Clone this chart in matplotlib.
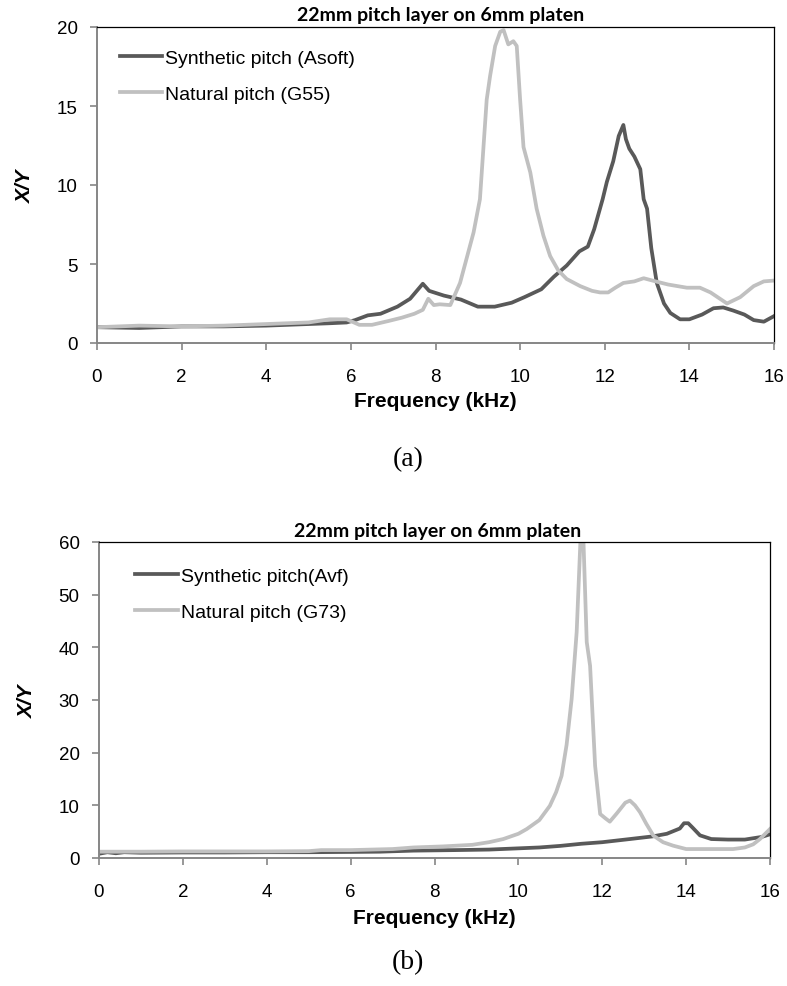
import matplotlib
matplotlib.use('Agg')
import matplotlib.pyplot as plt

# (a) 22mm pitch layer, Asoft vs G55
freq_a_syn = [0, 1, 2, 3, 4, 4.5, 5, 5.5, 5.9, 6.1, 6.4, 6.7, 7.1, 7.4, 7.7, 7.85, 8.2, 8.6,
              9.0, 9.4, 9.8, 10.1, 10.5, 10.8, 11.1, 11.4, 11.6, 11.75, 11.95, 12.05, 12.2,
              12.33, 12.44, 12.5, 12.58, 12.7, 12.84, 12.92, 13.0, 13.1, 13.23, 13.4, 13.55,
              13.78, 14.0, 14.3, 14.57, 14.8, 15.04, 15.3, 15.52, 15.76, 16.0]
xy_a_syn = [1.0, 0.95, 1.05, 1.05, 1.1, 1.15, 1.2, 1.25, 1.3, 1.45, 1.75, 1.85, 2.3, 2.8,
            3.75, 3.3, 3.0, 2.75, 2.3, 2.3, 2.55, 2.9, 3.4, 4.2, 4.9, 5.8, 6.1, 7.2, 9.1,
            10.2, 11.5, 13.1, 13.8, 12.9, 12.3, 11.8, 11.0, 9.1, 8.5, 6.0, 3.8, 2.5, 1.9,
            1.5, 1.5, 1.8, 2.2, 2.25, 2.05, 1.8, 1.45, 1.35, 1.7]

freq_a_nat = [0, 1, 2, 3, 4, 5, 5.5, 5.9, 6.2, 6.5, 6.9, 7.2, 7.5, 7.7, 7.83, 7.96, 8.1,
              8.35, 8.58, 8.75, 8.9, 9.05, 9.21, 9.29, 9.41, 9.53, 9.61, 9.72, 9.84, 9.92,
              10.0, 10.08, 10.24, 10.39, 10.55, 10.71, 10.9, 11.1, 11.42, 11.7, 11.89, 12.08,
              12.25, 12.44, 12.7, 12.92, 13.2, 13.5, 13.94, 14.25, 14.5, 14.89, 15.2, 15.52,
              15.76, 16.0]
xy_a_nat = [1.0, 1.1, 1.05, 1.1, 1.2, 1.3, 1.5, 1.5, 1.15, 1.15, 1.4, 1.6, 1.85, 2.1, 2.8,
            2.4, 2.45, 2.4, 3.8, 5.5, 7.0, 9.1, 15.4, 16.9, 18.8, 19.7, 19.8, 18.9, 19.1,
            18.8, 15.4, 12.4, 10.8, 8.5, 6.8, 5.5, 4.6, 4.05, 3.6, 3.3, 3.2, 3.2, 3.5, 3.8,
            3.9, 4.1, 3.9, 3.7, 3.5, 3.5, 3.2, 2.5, 2.9, 3.6, 3.9, 3.95]

# (b) 22mm pitch layer, Avf vs G73
freq_b_syn = [0, 0.2, 0.4, 0.6, 1, 2, 3, 4, 5, 6, 6.7, 7.5, 8.5, 9.3, 9.9, 10.5, 11.0, 11.5,
              12.0, 12.66, 13.2, 13.54, 13.85, 13.95, 14.05, 14.15, 14.33, 14.6, 15.0, 15.4,
              15.8, 16.0]
xy_b_syn = [0.8, 1.1, 0.9, 1.1, 1.0, 1.05, 1.05, 1.1, 1.1, 1.15, 1.2, 1.4, 1.5, 1.6, 1.8,
            2.0, 2.3, 2.7, 3.0, 3.6, 4.1, 4.6, 5.6, 6.6, 6.6, 5.8, 4.3, 3.6, 3.5, 3.5, 4.0, 4.5]

freq_b_nat = [0, 1, 2, 3, 4, 5, 5.3, 6, 7, 7.5, 8.2, 8.9, 9.3, 9.64, 10.0, 10.2, 10.5, 10.75,
              10.9, 11.03, 11.15, 11.27, 11.39, 11.52, 11.63, 11.71, 11.83, 11.95, 12.08,
              12.18, 12.35, 12.55, 12.66, 12.78, 12.9, 13.05, 13.22, 13.45, 13.69, 14.0, 14.5,
              15.12, 15.4, 15.6, 15.76, 16.0]
xy_b_nat = [1.2, 1.2, 1.25, 1.25, 1.25, 1.3, 1.5, 1.5, 1.7, 2.0, 2.2, 2.5, 3.0, 3.6, 4.6,
            5.5, 7.2, 9.9, 12.5, 15.6, 21.5, 30.2, 42.9, 68.0, 41.0, 36.5, 17.5, 8.35, 7.5,
            6.9, 8.5, 10.5, 10.9, 10.0, 8.7, 6.5, 4.24, 3.0, 2.34, 1.7, 1.7, 1.7, 2.0, 2.6,
            3.6, 5.5]

title = '22mm pitch layer on 6mm platen'
dark = '#595959'
light = '#c0c0c0'
axis_grey = '#868686'
sans = ['Liberation Sans', 'DejaVu Sans']


def style_axes(ax, ymax, ystep):
    ax.set_xlim(0, 16)
    ax.set_ylim(0, ymax)
    ax.set_xticks(range(0, 17, 2))
    ax.set_yticks(range(0, ymax + 1, ystep))
    for side in ('left', 'bottom'):
        ax.spines[side].set_color(axis_grey)
        ax.spines[side].set_linewidth(1.4)
    for side in ('top', 'right'):
        ax.spines[side].set_color('black')
        ax.spines[side].set_linewidth(0.9)
    ax.tick_params(direction='out', length=5, width=1.2, color=axis_grey,
                   labelsize=13.5, labelcolor='black')
    ax.tick_params(axis='x', pad=13)
    ax.tick_params(axis='y', pad=9)
    for lab in ax.get_xticklabels() + ax.get_yticklabels():
        lab.set_family(sans)


def draw(ax, fs, ys, fn, yn, lab_s, lab_n, ymax, ystep, xlab_y, ylab_x, title_x, title_y, leg_xy):
    ax.plot(fs, ys, color=dark, lw=2.7, label=lab_s, solid_joinstyle='round')
    ax.plot(fn, yn, color=light, lw=2.7, label=lab_n, solid_joinstyle='round')
    style_axes(ax, ymax, ystep)
    ax.set_xlabel('Frequency (kHz)', fontsize=15, fontweight='bold', family=sans)
    ax.xaxis.label.set_va('center')
    ax.xaxis.set_label_coords(0.5, xlab_y)
    ax.set_ylabel('X/Y', fontsize=15, fontweight='bold', style='italic', family=sans)
    ax.yaxis.label.set_va('center')
    ax.yaxis.set_label_coords(ylab_x, 0.5)
    ax.text(title_x, title_y, title, transform=ax.transAxes, ha='center', va='center',
            fontsize=14, fontweight='bold', family=['Lato', 'DejaVu Sans'])
    leg = ax.legend(loc='upper left', bbox_to_anchor=leg_xy, frameon=False,
                    prop={'family': sans, 'size': 14}, handlelength=2.2, handletextpad=0.15,
                    labelspacing=0.95, borderaxespad=0)
    for line in leg.get_lines():
        line.set_linewidth(2.7)


fig = plt.figure(figsize=(7.87, 9.87), dpi=100)

ax_a = fig.add_axes([97 / 787, 1 - 344 / 987, 677 / 787, 316 / 987])
draw(ax_a, freq_a_syn, xy_a_syn, freq_a_nat, xy_a_nat,
     'Synthetic pitch (Asoft)', 'Natural pitch (G55)', 20, 5,
     -0.1835, -0.106, 0.507, 1.041, (0.022, 0.955))

ax_b = fig.add_axes([99 / 787, 1 - 859 / 987, 671 / 787, 316 / 987])
draw(ax_b, freq_b_syn, xy_b_syn, freq_b_nat, xy_b_nat,
     'Synthetic pitch(Avf)', 'Natural pitch (G73)', 60, 10,
     -0.187, -0.106, 0.505, 1.035, (0.042, 0.945))

fig.text(408 / 787, 1 - 460 / 987, '(a)', ha='center', va='center', fontsize=20,
         family=['Liberation Serif', 'DejaVu Serif'])
fig.text(408 / 787, 1 - 963 / 987, '(b)', ha='center', va='center', fontsize=20,
         family=['Liberation Serif', 'DejaVu Serif'])

fig.savefig('out.png', dpi=100)
